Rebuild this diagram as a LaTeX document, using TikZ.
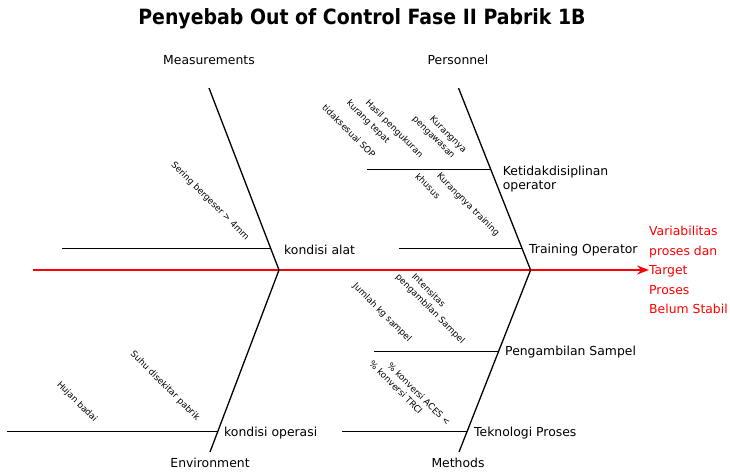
\documentclass[tikz,border=0pt]{standalone}
\usepackage{fontspec}
\setmainfont{DejaVu Sans}
\usetikzlibrary{arrows.meta}
\begin{document}
\begin{tikzpicture}[x=1pt,y=-1pt,
  bone/.style={line width=1.3pt, draw=black},
  spine/.style={line width=1.4pt, draw=red, -{Stealth[length=12pt,width=9pt,inset=4pt]}},
  lbl/.style={font=\fontsize{12.4}{14.3}\selectfont, inner sep=0pt, anchor=west},
  cat/.style={font=\fontsize{12.4}{14.3}\selectfont, inner sep=0pt},
  cause/.style={font=\fontsize{8.8}{10}\selectfont, inner sep=0pt, rotate=-45},
]
\fill[white] (0,0) rectangle (730,472);
\useasboundingbox (0,0) rectangle (730,472);

% title
\node[font=\fontsize{21}{24}\selectfont\bfseries, inner sep=0pt] (title) at (362,19)
  {\scalebox{0.9}[1]{Penyebab Out of Control Fase II Pabrik 1B}};

% effect
\node[font=\fontsize{12.4}{19.6}\selectfont, text=red, align=left, inner sep=0pt, anchor=west] (effect) at (649,270)
  {Variabilitas\\proses dan\\Target\\Proses\\Belum Stabil};

% spine and ribs
\coordinate (tail) at (33,270);
\coordinate (jL) at (279,270);
\coordinate (jR) at (530.6,270);
\coordinate (mTop) at (209,88);
\coordinate (pTop) at (458.5,88);
\coordinate (eBot) at (210,452);
\coordinate (tBot) at (459,452);
\draw[spine] (tail) -- (effect.west);
\draw[bone] (mTop) -- (jL);
\draw[bone] (pTop) -- (jR);
\draw[bone] (jL) -- (eBot);
\draw[bone] (jR) -- (tBot);

% category labels
\node[cat] (meas) at (209,60) {Measurements};
\node[cat] (pers) at (458,60) {Personnel};
\node[cat] (env) at (210,463) {Environment};
\node[cat] (meth) at (458,463) {Methods};

% sub-bones
\coordinate (kaS) at (62,248.5);  \coordinate (kaE) at (270.7,248.5);
\coordinate (kdS) at (367,169.3); \coordinate (kdE) at (490.7,169.3);
\coordinate (toS) at (399,248.5); \coordinate (toE) at (522.1,248.5);
\coordinate (psS) at (374,351.5); \coordinate (psE) at (498.6,351.5);
\coordinate (tpS) at (342,431.5); \coordinate (tpE) at (467.1,431.5);
\coordinate (koS) at (7,431.5);   \coordinate (koE) at (217.8,431.5);
\draw[bone] (kaS) -- (kaE);
\draw[bone] (kdS) -- (kdE);
\draw[bone] (toS) -- (toE);
\draw[bone] (psS) -- (psE);
\draw[bone] (tpS) -- (tpE);
\draw[bone] (koS) -- (koE);

% sub-bone labels
\node[lbl] (ka) at (284,250) {kondisi alat};
\node[lbl, align=left] (kd) at (502.7,178.9) {Ketidakdisiplinan\\operator};
\node[lbl] (to) at (529,250) {Training Operator};
\node[lbl] (ps) at (505,352) {Pengambilan Sampel};
\node[lbl] (tp) at (474,433) {Teknologi Proses};
\node[lbl] (ko) at (224,433) {kondisi operasi};

% causes
\node[cause] (c1) at (210,201) {Sering bergeser > 4mm};
\node[cause] (c2a) at (394,129) {Hasil pengukuran};
\node[cause] (c2b) at (368,122) {kurang tepat};
\node[cause] (c2c) at (349,131) {tidaksesuai SOP};
\node[cause] (c3a) at (448,135) {Kurangnya};
\node[cause] (c3b) at (433,138) {pengawasan};
\node[cause] (c4a) at (468,205) {Kurangnya training};
\node[cause] (c4b) at (428,186) {khusus};
\node[cause] (c5a) at (429,290) {Intensitas};
\node[cause] (c5b) at (430,309) {pengambilan Sampel};
\node[cause] (c6) at (382,313) {Jumlah kg sampel};
\node[cause] (c7a) at (419,394) {\% konversi ACES <};
\node[cause] (c7b) at (396,387) {\% konversi TRCI};
\node[cause] (c8) at (77,402) {Hujan badai};
\node[cause] (c9) at (165,386) {Suhu disekitar pabrik};
\end{tikzpicture}
\end{document}
